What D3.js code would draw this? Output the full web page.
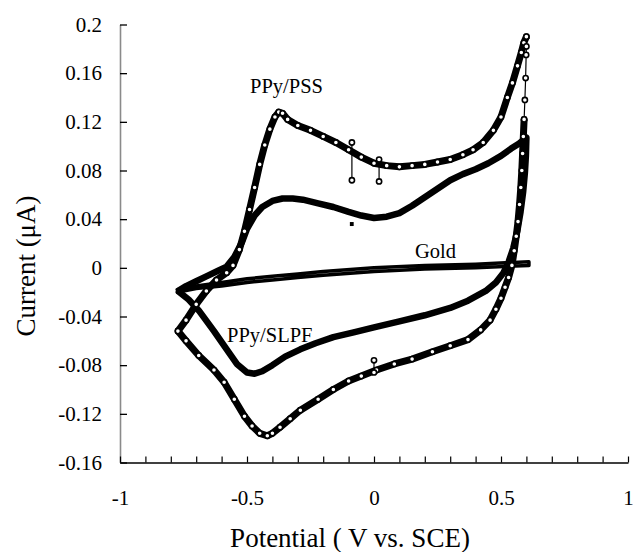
<!DOCTYPE html>
<html>
<head>
<meta charset="utf-8">
<script src="https://cdn.jsdelivr.net/npm/d3@7"></script>
</head>
<body style="margin:0">
<div id="chart"></div>
<script>
// potential (V vs SCE), current (uA)
const pss = [
  [-0.772,-0.052],[-0.74,-0.043],[-0.70,-0.030],[-0.66,-0.019],[-0.62,-0.010],[-0.58,-0.004],
  [-0.555,0.002],[-0.53,0.015],[-0.51,0.030],[-0.49,0.048],[-0.47,0.066],[-0.45,0.085],
  [-0.43,0.101],[-0.41,0.114],[-0.39,0.124],[-0.375,0.128],[-0.36,0.127],[-0.34,0.122],
  [-0.30,0.117],[-0.25,0.113],[-0.20,0.108],[-0.15,0.103],[-0.10,0.097],[-0.05,0.091],
  [0.0,0.086],[0.05,0.084],[0.10,0.083],[0.15,0.084],[0.20,0.085],[0.25,0.087],[0.30,0.089],
  [0.35,0.093],[0.39,0.097],[0.43,0.103],[0.47,0.113],[0.50,0.124],[0.525,0.140],
  [0.545,0.152],[0.565,0.166],[0.58,0.177],[0.59,0.185],[0.600,0.190]
];
const pssJump = [[0.600,0.190],[0.600,0.182],[0.599,0.175],[0.597,0.156],[0.594,0.138],[0.591,0.122]];
const pssReturn = [
  [0.591,0.122],[0.588,0.108],[0.585,0.094],[0.582,0.080],[0.578,0.066],[0.573,0.052],
  [0.567,0.038],[0.56,0.026],[0.552,0.014],[0.543,0.002],[0.53,-0.008],[0.516,-0.016],
  [0.50,-0.025],[0.48,-0.034],[0.457,-0.043],[0.42,-0.051],[0.37,-0.059],[0.30,-0.064],
  [0.23,-0.069],[0.15,-0.075],[0.08,-0.079],[0.01,-0.084],[-0.05,-0.089],[-0.10,-0.093],
  [-0.16,-0.100],[-0.22,-0.108],[-0.29,-0.117],[-0.33,-0.124],[-0.37,-0.131],[-0.40,-0.136],
  [-0.42,-0.138],[-0.45,-0.136],[-0.48,-0.130],[-0.51,-0.122],[-0.55,-0.108],[-0.59,-0.094],
  [-0.63,-0.084],[-0.69,-0.072],[-0.74,-0.060],[-0.772,-0.052]
];
const pssGlitches = [
  [[-0.087,0.103],[-0.087,0.072]],
  [[0.02,0.089],[0.02,0.071]],
  [[0.0,-0.086],[0.0,-0.076]]
];

const slpf = [
  [-0.772,-0.019],[-0.74,-0.015],[-0.70,-0.011],[-0.66,-0.007],[-0.62,-0.003],[-0.58,0.001],
  [-0.55,0.009],[-0.52,0.021],[-0.50,0.032],[-0.47,0.043],[-0.44,0.050],[-0.40,0.055],
  [-0.36,0.057],[-0.32,0.057],[-0.28,0.056],[-0.22,0.053],[-0.16,0.050],[-0.10,0.046],
  [-0.05,0.043],[0.0,0.041],[0.05,0.042],[0.10,0.045],[0.15,0.051],[0.20,0.058],
  [0.25,0.065],[0.30,0.072],[0.35,0.077],[0.40,0.081],[0.45,0.086],[0.50,0.092],
  [0.54,0.098],[0.57,0.102],[0.60,0.107],
  [0.598,0.092],[0.594,0.078],[0.587,0.062],[0.577,0.046],[0.564,0.030],[0.548,0.016],
  [0.53,0.005],[0.51,-0.004],[0.48,-0.012],[0.44,-0.019],[0.37,-0.027],[0.30,-0.033],
  [0.20,-0.039],[0.10,-0.044],[0.0,-0.049],[-0.08,-0.053],[-0.16,-0.057],[-0.23,-0.062],
  [-0.29,-0.067],[-0.35,-0.073],[-0.40,-0.080],[-0.44,-0.085],[-0.47,-0.087],[-0.50,-0.086],
  [-0.54,-0.079],[-0.58,-0.067],[-0.63,-0.052],[-0.69,-0.035],[-0.73,-0.026],[-0.772,-0.019]
];
const slpfStray = [[-0.095,0.036],[-0.08,0.036]];

const gold = [
  [-0.775,-0.018],[-0.7,-0.015],[-0.6,-0.012],[-0.5,-0.009],[-0.4,-0.007],[-0.3,-0.005],
  [-0.2,-0.003],[0.0,0.0],[0.2,0.002],[0.4,0.003],[0.61,0.005],
  [0.61,0.002],[0.4,0.0],[0.2,-0.001],[0.0,-0.003],[-0.2,-0.006],[-0.3,-0.008],
  [-0.4,-0.010],[-0.5,-0.012],[-0.6,-0.015],[-0.7,-0.017],[-0.775,-0.020]
];

const xTicks = [-1, -0.5, 0, 0.5, 1];
const xMinor = d3.range(-10, 11).map(d => d / 10);
const yTicks = [-0.16, -0.12, -0.08, -0.04, 0, 0.04, 0.08, 0.12, 0.16, 0.2];

const width = 635;
const height = 552;
const serif = '"Liberation Serif"';

const svg = d3.select('#chart')
  .append('svg')
  .attr('width', width)
  .attr('height', height)
  .style('background', '#fff')

const x = d3.scaleLinear().domain([-1, 1]).range([120, 628]);
const y = d3.scaleLinear().domain([-0.16, 0.2]).range([462.5, 24.5]);

const line = d3.line()
  .x(d => x(d[0]))
  .y(d => y(d[1]))

// axes
const yAxis = svg.append('g')
  .attr('transform', 'translate(120,0)')
  .call(d3.axisLeft(y).tickValues(yTicks).tickSize(0).tickPadding(18)
    .tickFormat(d => String(+d.toFixed(2))))
yAxis.select('.domain').attr('stroke', '#8a8a8a').attr('stroke-width', 1.6)
yAxis.selectAll('text')
  .style('font-family', serif)
  .style('font-size', '21px')
  .style('fill', '#000')

svg.append('g')
  .attr('transform', 'translate(120,0)')
  .call(d3.axisRight(y).tickValues(yTicks).tickSize(7).tickFormat(''))
  .call(g => g.select('.domain').remove())
  .selectAll('line').attr('stroke', '#000').attr('stroke-width', 1.3)

const xAxis = svg.append('g')
  .attr('transform', 'translate(0,462.5)')
  .call(d3.axisBottom(x).tickValues(xTicks).tickSize(0).tickPadding(28)
    .tickFormat(d => String(d)))
xAxis.select('.domain').attr('stroke', '#000').attr('stroke-width', 1.5)
xAxis.selectAll('text')
  .style('font-family', serif)
  .style('font-size', '21px')
  .style('fill', '#000')

svg.append('g')
  .attr('transform', 'translate(0,462.5)')
  .call(d3.axisTop(x).tickValues(xMinor).tickSize(6).tickFormat(''))
  .call(g => g.select('.domain').remove())
  .selectAll('line').attr('stroke', '#000').attr('stroke-width', 1.2)

// axis titles
svg.append('text')
  .attr('transform', 'translate(35,266) rotate(-90)')
  .attr('text-anchor', 'middle')
  .style('font-family', serif)
  .style('font-size', '27px')
  .text('Current (\u03bcA)')

svg.append('text')
  .attr('x', 350)
  .attr('y', 547)
  .attr('text-anchor', 'middle')
  .style('font-family', serif)
  .style('font-size', '27px')
  .text('Potential ( V vs. SCE)')

// gold
svg.append('path')
  .datum(gold)
  .attr('d', line)
  .attr('fill', 'none')
  .attr('stroke', '#000')
  .attr('stroke-width', 3.5)
  .attr('stroke-linejoin', 'round')
  .attr('stroke-linecap', 'round')

// PPy/SLPF
svg.append('path')
  .datum(slpf)
  .attr('d', line)
  .attr('fill', 'none')
  .attr('stroke', '#000')
  .attr('stroke-width', 6.5)
  .attr('stroke-linejoin', 'round')

svg.append('path')
  .datum(slpfStray)
  .attr('d', line)
  .attr('stroke', '#000')
  .attr('stroke-width', 4)

// PPy/PSS
;[pss, pssReturn].forEach(seg => {
  svg.append('path')
    .datum(seg)
    .attr('d', line)
    .attr('fill', 'none')
    .attr('stroke', '#000')
    .attr('stroke-width', 7)
    .attr('stroke-linejoin', 'round')
})

;[pssJump].concat(pssGlitches).forEach(seg => {
  svg.append('path')
    .datum(seg)
    .attr('d', line)
    .attr('fill', 'none')
    .attr('stroke', '#000')
    .attr('stroke-width', 1.2)
})

const pssPoints = pss.concat(pssJump, pssReturn, ...pssGlitches)

svg.selectAll('circle.pss')
  .data(pssPoints)
  .enter()
  .append('circle')
  .attr('class', 'pss')
  .attr('cx', d => x(d[0]))
  .attr('cy', d => y(d[1]))
  .attr('r', 2.6)
  .attr('fill', '#fff')
  .attr('stroke', '#000')
  .attr('stroke-width', 1.6)

// curve labels
svg.selectAll('text.curve')
  .data([['PPy/PSS', 250, 93], ['Gold', 415, 258], ['PPy/SLPF', 227, 342]])
  .enter()
  .append('text')
  .attr('class', 'curve')
  .attr('x', d => d[1])
  .attr('y', d => d[2])
  .style('font-family', serif)
  .style('font-size', '20.5px')
  .text(d => d[0])
</script>
</body>
</html>
